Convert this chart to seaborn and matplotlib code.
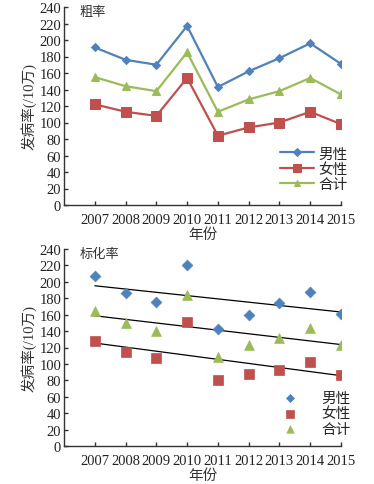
import matplotlib
matplotlib.use("Agg")
import matplotlib.pyplot as plt
import seaborn as sns
import numpy as np
import pandas as pd

years = [2007, 2008, 2009, 2010, 2011, 2012, 2013, 2014, 2015]
crude_male = [191, 176, 170, 217, 143, 162, 178, 196, 171]
crude_female = [122, 113, 108, 154, 84, 94, 100, 113, 98]
crude_total = [155, 144, 138, 185, 113, 128, 138, 154, 134]
std_male = [207, 186, 175, 220, 142, 160, 174, 188, 161]
std_female = [128, 115, 107, 151, 80, 88, 93, 102, 86]
std_total = [165, 150, 140, 184, 109, 123, 132, 144, 123]
labels = ["男性", "女性", "合计"]
yticks = list(range(0, 241, 20))

sns.set_theme(style="white")
plt.rcParams['font.family'] = ['Liberation Serif', 'Noto Sans CJK SC']
plt.rcParams['axes.unicode_minus'] = False

colors = ["#4F81BD", "#C0504D", "#9BBB59"]
markers = ["D", "s", "^"]
line_ms = [4.5, 6.5, 6]
scat_s = [30, 60, 50]

fig = plt.figure(figsize=(3.74, 4.85), dpi=100)
ax1 = fig.add_axes([64/374, 1-206/485, (341-64)/374, (206-8)/485])
ax2 = fig.add_axes([64/374, 1-447/485, (341-64)/374, (447-250)/485])

crude = [crude_male, crude_female, crude_total]
std = [std_male, std_female, std_total]

for vals, lab, c, m, ms in zip(crude, labels, colors, markers, line_ms):
    df = pd.DataFrame({"year": years, "rate": vals})
    sns.lineplot(data=df, x="year", y="rate", ax=ax1, color=c, marker=m,
                 markersize=ms, markeredgecolor=c, linewidth=1.6, label=lab)

for vals, lab, c, m, s in zip(std, labels, colors, markers, scat_s):
    df = pd.DataFrame({"year": years, "rate": vals})
    sns.scatterplot(data=df, x="year", y="rate", ax=ax2, color=c, marker=m,
                    s=s, edgecolor=c, linewidth=0.5, label=lab, zorder=3)
for vals in std:
    df = pd.DataFrame({"year": years, "rate": vals})
    sns.regplot(data=df, x="year", y="rate", ax=ax2, scatter=False, ci=None,
                color="black", line_kws={"linewidth": 0.9}, truncate=True)

for ax, title in [(ax1, "粗率"), (ax2, "标化率")]:
    ax.set_xlim(2006, 2015)
    ax.set_ylim(0, 240)
    ax.set_xticks(years)
    ax.set_xticklabels([str(y) for y in years], fontsize=10.5)
    ax.set_yticks(yticks)
    ax.set_yticklabels([str(v) for v in yticks], fontsize=10.5)
    ax.tick_params(direction="in", length=3, width=1, color="#333333",
                   left=True, bottom=True, pad=2, labelcolor="#222222")
    ax.tick_params(axis="x", pad=6)
    for sp in ["top", "right"]:
        ax.spines[sp].set_visible(False)
    for sp in ["left", "bottom"]:
        ax.spines[sp].set_color("#333333")
        ax.spines[sp].set_linewidth(1.0)
    ax.set_xlabel("年份", fontsize=10.5, color="#333333", labelpad=1)
    ax.set_ylabel("发病率(/10万)", fontsize=10.5, color="#333333", labelpad=2)
    ax.text(0.055, 0.975, title, transform=ax.transAxes, fontsize=9.5,
            va="center", ha="left", color="#333333")

ax1.legend(loc="lower right", bbox_to_anchor=(1.06, 0.02), frameon=False,
           fontsize=10.5, handlelength=2.3, handletextpad=0.3, labelspacing=0.12,
           borderaxespad=0.3, markerscale=0.8)
ax2.legend(loc="lower right", bbox_to_anchor=(1.07, 0.0), frameon=False,
           fontsize=10.5, handlelength=1.0, handletextpad=1.6, labelspacing=0.15,
           borderaxespad=0.3, markerscale=0.75)

fig.savefig("out.png", dpi=100)
